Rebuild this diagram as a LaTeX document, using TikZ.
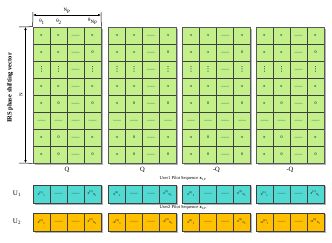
\documentclass[tikz,border=0pt]{standalone}
\usepackage{fontspec}
\setmainfont{Liberation Serif}
\newfontfamily\dejavu{DejaVu Sans}
\usetikzlibrary{arrows.meta}
\definecolor{cellgreen}{RGB}{196,240,140}
\definecolor{cellcyan}{RGB}{82,218,210}
\definecolor{cellorange}{RGB}{255,192,0}
\definecolor{gridline}{RGB}{64,64,64}
\begin{document}
\begin{tikzpicture}[x=1pt,y=-1pt,
  cell/.style={draw=gridline,line width=0.7pt,fill=cellgreen,minimum width=17pt,minimum height=17pt,inner sep=0pt,font=\fontsize{4}{4}\selectfont},
  ucell/.style={draw=gridline,line width=0.7pt,minimum width=17pt,minimum height=18pt,inner sep=0pt,font=\fontsize{4}{4}\selectfont},
  lbl/.style={font=\fontsize{6.5}{6.5}\selectfont,inner sep=0pt},
  small/.style={font=\fontsize{5}{5}\selectfont,inner sep=0pt},
  dim/.style={line width=0.5pt},
  dimarrow/.style={line width=0.5pt,{Latex[length=3pt,width=2.5pt]}-{Latex[length=3pt,width=2.5pt]}}
]
\useasboundingbox (0,0) rectangle (332,242);
\newcommand{\dsh}{------}
\newcommand{\vd}{{\dejavu\fontsize{7}{7}\selectfont ⋮}}
\newcommand{\xs}[2]{\textit{x}\textsuperscript{(#1)}\textsubscript{#2}}
% matrices
\foreach \m/\xo/\q in {1/33/Q,2/108.5/Q,3/182.5/-Q,4/256/-Q}{
  \fill[gray!60] (\xo+1.5,28.5) rectangle (\xo+69.5,164.5);
  \foreach \r/\a/\b/\c/\d in {1/π/π/\dsh/π,2/π/π/\dsh/0,3/\vd/\vd/\dsh/\vd,4/π/π/\dsh/π,5/π/0/\dsh/0,6/\dsh/\dsh/\dsh/\dsh,7/π/0/\dsh/π,8/π/0/\dsh/0}{
    \node[cell] (m\m-\r-1) at (\xo+8.5,27+\r*17-8.5) {\a};
    \node[cell] (m\m-\r-2) at (\xo+25.5,27+\r*17-8.5) {\b};
    \node[cell] (m\m-\r-3) at (\xo+42.5,27+\r*17-8.5) {\c};
    \node[cell] (m\m-\r-4) at (\xo+59.5,27+\r*17-8.5) {\d};
  }
  \draw[gray!70!black,line width=0.8pt] (\xo,27) rectangle (\xo+68,163);
  \node[lbl] (q\m) at (\xo+34,170) {\q};
}
% N_P dimension
\coordinate (tl) at (33,12);
\coordinate (tr) at (101,12);
\draw[dim] (tl) -- (m1-1-1.north west);
\draw[dim] (tr) -- (m1-1-4.north east);
\draw[dimarrow] (33,15) -- node[above=1.5pt,small] (np) {N\textsubscript{P}} (101,15);
\node[small] (t1) at (42,21.5) {θ\textsubscript{1}};
\node[small] (t2) at (59,21.5) {θ\textsubscript{2}};
\node[small] (t3) at (93,21.5) {θ\textsubscript{N\textsubscript{P}}};
% N dimension
\coordinate (lt) at (19,27);
\coordinate (lb) at (19,163);
\draw[dim] (lt) -- (m1-1-1.north west);
\draw[dim] (lb) -- (m1-8-1.south west);
\draw[dimarrow] (25.5,27) -- (25.5,163);
\node[small,rotate=90] (nlab) at (21,95) {N};
\node[rotate=90,inner sep=0pt,font=\fontsize{6.5}{6.5}\bfseries] (irs) at (10,88) {IRS phase shifting vector};
% user rows
\node[lbl,font=\fontsize{7}{7}\selectfont] (u1) at (17,194) {U\textsubscript{1}};
\node[lbl,font=\fontsize{7}{7}\selectfont] (u2) at (17,222) {U\textsubscript{2}};
\node[small,font=\fontsize{4.5}{5}\selectfont] (s1) at (183,179) {User1 Pilot Sequence \textbf{x}\textsubscript{1,P}};
\node[small,font=\fontsize{4.5}{5}\selectfont] (s2) at (183,208) {User2 Pilot Sequence \textbf{x}\textsubscript{2,P}};
\foreach \m/\xo/\sg in {1/33/,2/108.5/-,3/182.5/,4/256/-}{
  \fill[gray!60] (\xo+1.5,186) rectangle (\xo+69.5,204.5);
  \fill[gray!60] (\xo+1.5,214) rectangle (\xo+69.5,232.5);
  \node[ucell,fill=cellcyan] (a\m-1) at (\xo+8.5,194) {\xs{1}{1}};
  \node[ucell,fill=cellcyan] (a\m-2) at (\xo+25.5,194) {\dsh};
  \node[ucell,fill=cellcyan] (a\m-3) at (\xo+42.5,194) {\dsh};
  \node[ucell,fill=cellcyan] (a\m-4) at (\xo+59.5,194) {\xs{1}{N\textsubscript{P}}};
  \node[ucell,fill=cellorange] (b\m-1) at (\xo+8.5,222) {\sg\xs{2}{1}};
  \node[ucell,fill=cellorange] (b\m-2) at (\xo+25.5,222) {\dsh};
  \node[ucell,fill=cellorange] (b\m-3) at (\xo+42.5,222) {\dsh};
  \node[ucell,fill=cellorange] (b\m-4) at (\xo+59.5,222) {\sg\xs{2}{N\textsubscript{P}}};
}
\end{tikzpicture}
\end{document}
